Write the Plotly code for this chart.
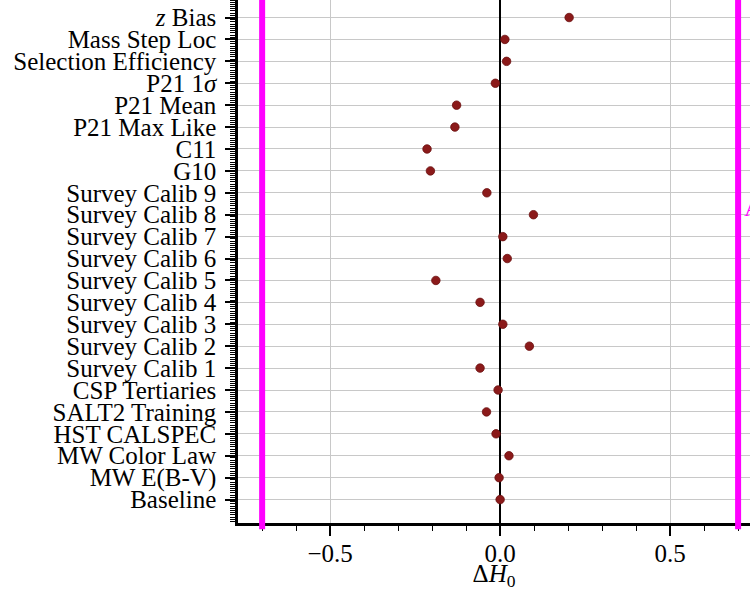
import plotly.graph_objects as go

labels = [
    "Baseline", "MW E(B-V)", "MW Color Law", "HST CALSPEC", "SALT2 Training",
    "CSP Tertiaries", "Survey Calib 1", "Survey Calib 2", "Survey Calib 3",
    "Survey Calib 4", "Survey Calib 5", "Survey Calib 6", "Survey Calib 7",
    "Survey Calib 8", "Survey Calib 9", "G10", "C11", "P21 Max Like",
    "P21 Mean", "P21 1<i>σ</i>", "Selection Efficiency", "Mass Step Loc",
    "<i>z</i> Bias",
]
delta_h0 = [
    0.000, -0.003, 0.026, -0.012, -0.040,
    -0.006, -0.059, 0.086, 0.008,
    -0.059, -0.189, 0.021, 0.008,
    0.098, -0.039, -0.205, -0.215, -0.133,
    -0.128, -0.014, 0.019, 0.014,
    0.203,
]
limit_lines = [-0.7, 0.7]
x_ticks = [-0.5, 0.0, 0.5]
x_ticktext = ["−0.5", "0.0", "0.5"]

positions = list(range(len(labels)))
FONT = "Liberation Serif"

fig = go.Figure()
fig.add_trace(go.Scatter(
    x=delta_h0, y=positions, mode="markers",
    marker=dict(size=8.5, color="#8b1a1a", line=dict(width=0.8, color="#6b1010")),
    showlegend=False, cliponaxis=False,
))

for xv in limit_lines:
    fig.add_shape(type="line", x0=xv, x1=xv, xref="x", yref="paper",
                  y0=-0.012, y1=1.0, line=dict(color="#ff00ff", width=6), layer="above")

fig.add_annotation(text="A", x=1.0, xref="paper", xanchor="left", xshift=-8,
                   y=13.3, yref="y", yanchor="middle", showarrow=False,
                   font=dict(family=FONT, size=24, color="#ff00ff"))

fig.update_layout(
    width=750, height=591,
    margin=dict(l=238, r=0, t=0, b=68),
    plot_bgcolor="white", paper_bgcolor="white",
    font=dict(family=FONT, size=25, color="black"),
)
fig.update_xaxes(
    range=[-0.771, 0.735],
    tickvals=x_ticks, ticktext=x_ticktext,
    showline=True, linecolor="black", linewidth=2.5,
    ticks="outside", ticklen=10, tickwidth=1.5, tickcolor="black",
    showgrid=True, gridcolor="#c8c8c8", gridwidth=1,
    zeroline=True, zerolinecolor="black", zerolinewidth=2,
    minor=dict(ticks="outside", ticklen=5, tickwidth=1.2, tickcolor="black",
               tick0=0, dtick=0.1, showgrid=False),
    tickfont=dict(family=FONT, size=25),
    ticklabelstandoff=-4,
    title=dict(text="Δ<i>H</i><sub>0</sub>", font=dict(family=FONT, size=25), standoff=4),
)
fig.update_yaxes(
    range=[-1.07, 22.8],
    tickvals=positions, ticktext=labels,
    showline=True, linecolor="black", linewidth=2.5,
    ticks="outside", ticklen=10, tickwidth=1.5, tickcolor="black",
    showgrid=True, gridcolor="#c8c8c8", gridwidth=1,
    zeroline=False,
    minor=dict(ticks="outside", ticklen=5, tickwidth=1, tickcolor="black",
               tick0=0, dtick=0.1, showgrid=False),
    tickfont=dict(family=FONT, size=25),
    ticklabelstandoff=4,
)

fig.write_html(
    "out.html",
    config={"displayModeBar": False},
    post_script="document.body.style.margin='0';document.body.style.overflow='hidden';",
)
